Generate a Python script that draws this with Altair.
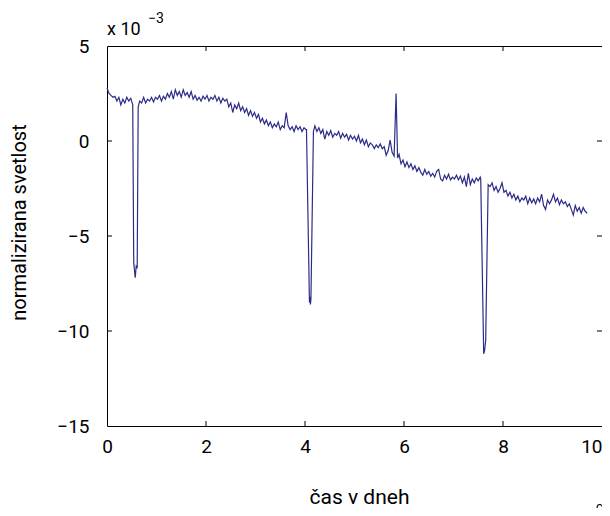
import altair as alt
import pandas as pd

# time in days
time = [
    0.00, 0.04, 0.08, 0.12, 0.16, 0.20, 0.24, 0.28, 0.32, 0.36,
    0.40, 0.44, 0.48, 0.52, 0.54, 0.57, 0.59, 0.61, 0.63, 0.66,
    0.70, 0.74, 0.78, 0.82, 0.86, 0.90, 0.94, 0.98,
    1.02, 1.06, 1.10, 1.14, 1.18, 1.22, 1.26, 1.30, 1.34, 1.38,
    1.42, 1.46, 1.50, 1.54, 1.58, 1.62, 1.66, 1.70, 1.74, 1.78,
    1.82, 1.86, 1.90, 1.94, 1.98,
    2.02, 2.06, 2.10, 2.14, 2.18, 2.22, 2.26, 2.30, 2.34, 2.38,
    2.42, 2.46, 2.50, 2.54, 2.58, 2.62, 2.66, 2.70, 2.74, 2.78,
    2.82, 2.86, 2.90, 2.94, 2.98,
    3.02, 3.06, 3.10, 3.14, 3.18, 3.22, 3.26, 3.30, 3.34, 3.38,
    3.42, 3.46, 3.50, 3.54, 3.58, 3.62, 3.66, 3.70, 3.74, 3.78,
    3.82, 3.86, 3.90, 3.94, 3.98, 4.02,
    4.03, 4.09, 4.10, 4.11, 4.12, 4.17,
    4.20, 4.24, 4.28, 4.32, 4.36, 4.40, 4.44, 4.48, 4.52, 4.56,
    4.60, 4.64, 4.68, 4.72, 4.76, 4.80, 4.84, 4.88, 4.92, 4.96,
    5.00, 5.04, 5.08, 5.12, 5.16, 5.20, 5.24, 5.28, 5.32, 5.36,
    5.40, 5.44, 5.48, 5.52, 5.56, 5.60, 5.64, 5.68, 5.72, 5.76,
    5.80, 5.84, 5.87, 5.90, 5.94, 5.98,
    6.02, 6.06, 6.10, 6.14, 6.18, 6.22, 6.26, 6.30, 6.34, 6.38,
    6.42, 6.46, 6.50, 6.54, 6.58, 6.62, 6.66, 6.70, 6.74, 6.78,
    6.82, 6.86, 6.90, 6.94, 6.98,
    7.02, 7.06, 7.10, 7.14, 7.18, 7.22, 7.26, 7.30, 7.34, 7.38,
    7.42, 7.46, 7.50, 7.54, 7.55, 7.61, 7.63, 7.65, 7.70, 7.74,
    7.78, 7.82, 7.86, 7.90, 7.94, 7.98,
    8.02, 8.06, 8.10, 8.14, 8.18, 8.22, 8.26, 8.30, 8.34, 8.38,
    8.42, 8.46, 8.50, 8.54, 8.58, 8.62, 8.66, 8.70, 8.74, 8.78,
    8.82, 8.86, 8.90, 8.94, 8.98,
    9.02, 9.06, 9.10, 9.14, 9.18, 9.22, 9.26, 9.30, 9.34, 9.38,
    9.42, 9.46, 9.50, 9.54, 9.58, 9.62, 9.66, 9.70,
]

# normalised brightness, in units of 1e-3
flux = [
    2.8, 2.5, 2.4, 2.3, 2.35, 2.1, 2.3, 1.9, 2.2, 2.0,
    2.3, 2.1, 2.25, 1.9, -6.4, -7.2, -6.6, -6.7, 1.8, 2.1,
    2.0, 2.3, 2.0, 2.2, 2.1, 2.3, 2.05, 2.3,
    2.2, 2.4, 2.1, 2.35, 2.2, 2.5, 2.3, 2.6, 2.2, 2.7,
    2.4, 2.6, 2.3, 2.7, 2.4, 2.55, 2.3, 2.6, 2.2, 2.4,
    2.15, 2.3, 2.1, 2.35, 2.2,
    2.4, 2.1, 2.3, 2.2, 2.4, 2.1, 2.3, 2.0, 2.25, 2.1,
    2.2, 1.8, 2.0, 1.5, 1.9, 1.7, 2.0, 1.6, 1.8, 1.5,
    1.7, 1.35, 1.6, 1.3, 1.5,
    1.2, 1.4, 1.0, 1.2, 0.9, 1.1, 0.8, 1.0, 0.7, 0.9,
    0.75, 1.0, 0.6, 0.8, 0.7, 1.5, 0.8, 0.6, 0.75, 0.5,
    0.8, 0.6, 0.75, 0.5, 0.7, 0.6,
    0.6, -8.5, -8.2, -8.6, -8.3, 0.5,
    0.8, 0.5, 0.7, 0.4, 0.6, 0.1, 0.5, 0.3, 0.55, 0.2,
    0.4, 0.3, 0.5, 0.15, 0.4, 0.2, 0.35, 0.05, 0.3, 0.1,
    0.25, 0.0, 0.3, -0.1, 0.1, -0.2, 0.05, -0.3, -0.1, -0.2,
    -0.4, -0.2, -0.35, -0.15, -0.4, -0.3, -0.75, -0.5, 0.05, -0.6,
    -0.8, 2.5, -0.9, -0.7, -1.2, -1.0,
    -1.35, -1.1, -1.4, -1.2, -1.5, -1.3, -1.6, -1.4, -1.65, -1.8,
    -1.5, -1.75, -1.6, -1.85, -1.7, -1.9, -1.6, -1.5, -2.0, -2.1,
    -1.8, -2.0, -1.75, -2.05, -1.9,
    -2.0, -1.8, -2.05, -1.85, -2.2, -1.9, -2.4, -1.7, -2.3, -2.0,
    -2.2, -1.95, -2.1, -1.9, -2.0, -11.2, -11.0, -10.5, -2.3, -2.4,
    -2.2, -2.6, -2.4, -2.7, -2.5, -2.2,
    -2.7, -2.6, -2.9, -2.7, -3.0, -2.8, -3.1, -2.9, -3.2, -3.0,
    -3.1, -2.9, -3.3, -3.0, -3.25, -3.05, -3.3, -3.0, -3.2, -2.8,
    -3.4, -3.6, -3.1, -3.3, -3.1,
    -2.8, -3.2, -3.0, -3.35, -3.1, -3.3, -3.2, -3.45, -3.3, -3.6,
    -3.9, -3.4, -3.7, -3.5, -3.8, -3.5, -3.7, -3.8,
]

x_ticks = [0, 2, 4, 6, 8, 10]
y_ticks = [-15, -10, -5, 0, 5]

x_title = "čas v dneh"
y_title = "normalizirana svetlost"

W, H = 495, 380
TICK = 5
FONT = "Roboto"
LINE_COLOR = "#2c2c88"

df = pd.DataFrame({"t": time, "f": flux})
xs = alt.Scale(domain=[x_ticks[0], x_ticks[-1]], nice=False, zero=False)
ys = alt.Scale(domain=[y_ticks[0], y_ticks[-1]], nice=False, zero=False)

x_axis = alt.Axis(
    values=x_ticks, title=x_title, grid=False, domain=False, ticks=False,
    tickSize=0, labelPadding=11, labelFontSize=19, labelFont=FONT,
    labelColor="#000", titleFont=FONT, titleFontSize=21,
    titleFontWeight="normal", titleColor="#000",
    titleX=252, titleY=77, titleAlign="center",
    titleBaseline="alphabetic", labelFlush=False,
    labelAlign={"condition": {"test": "datum.value >= 10", "value": "right"},
                "value": "center"})
y_axis = alt.Axis(
    values=y_ticks, title=y_title, grid=False, domain=False, ticks=False,
    tickSize=0, labelPadding=18, labelFontSize=19, labelFont=FONT,
    labelColor="#000", titleFont=FONT, titleFontSize=20,
    titleFontWeight="normal", titleColor="#000",
    titleX=-82, titleY=176, titleAngle=270, titleAlign="center",
    titleBaseline="alphabetic", labelFlush=False)

line = alt.Chart(df).mark_line(color=LINE_COLOR, strokeWidth=1.2).encode(
    x=alt.X("t:Q", scale=xs, axis=x_axis),
    y=alt.Y("f:Q", scale=ys, axis=y_axis),
)

xt = pd.DataFrame({"t": [v for v in x_ticks if v not in (x_ticks[0], x_ticks[-1])]})
yt = pd.DataFrame({"f": [v for v in y_ticks if v not in (y_ticks[0], y_ticks[-1])]})

tick_bottom = alt.Chart(xt).mark_rule(color="#000", strokeWidth=1).encode(
    x=alt.X("t:Q", scale=xs, axis=x_axis), y=alt.value(H), y2=alt.value(H - TICK))
tick_top = alt.Chart(xt).mark_rule(color="#000", strokeWidth=1).encode(
    x=alt.X("t:Q", scale=xs, axis=x_axis), y=alt.value(0), y2=alt.value(TICK))
tick_left = alt.Chart(yt).mark_rule(color="#000", strokeWidth=1).encode(
    y=alt.Y("f:Q", scale=ys, axis=y_axis), x=alt.value(0), x2=alt.value(TICK))
tick_right = alt.Chart(yt).mark_rule(color="#000", strokeWidth=1).encode(
    y=alt.Y("f:Q", scale=ys, axis=y_axis), x=alt.value(W), x2=alt.value(W - TICK))

exp_base = alt.Chart(pd.DataFrame({"s": ["x 10"]})).mark_text(
    font=FONT, fontSize=18, align="left", baseline="alphabetic", color="#000"
).encode(text="s:N", x=alt.value(0), y=alt.value(-11))
exp_pow = alt.Chart(pd.DataFrame({"s": ["\u22123"]})).mark_text(
    font=FONT, fontSize=14, align="left", baseline="alphabetic", color="#000"
).encode(text="s:N", x=alt.value(41), y=alt.value(-23))
corner = alt.Chart(pd.DataFrame({"s": ["c"]})).mark_text(
    font=FONT, fontSize=13, align="left", baseline="alphabetic", color="#000"
).encode(text="s:N", x=alt.value(489), y=alt.value(465))

chart = alt.layer(
    line, tick_bottom, tick_top, tick_left, tick_right, exp_base, exp_pow, corner
).properties(
    width=W, height=H,
    background="white",
    autosize=alt.AutoSizeParams(type="none"),
    padding={"left": 99, "top": 38, "right": 0, "bottom": 82},
).configure_view(
    stroke="#000", strokeWidth=1
)

chart.save("out.html", embed_options={"renderer": "svg", "actions": False})
